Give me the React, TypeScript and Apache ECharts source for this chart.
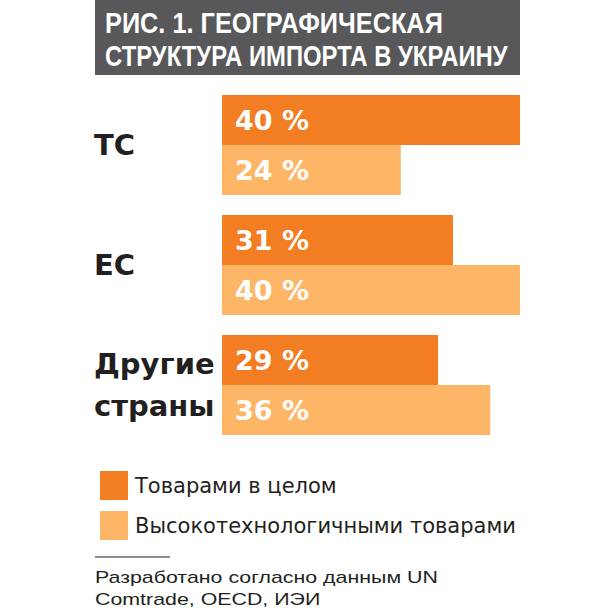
import React, { useEffect, useRef } from "react";
import * as echarts from "echarts";

const categories = ["ТС", "ЕС", "Другие\nстраны"];
const seriesNames = ["Товарами в целом", "Высокотехнологичными товарами"];
const goodsTotal = [40, 31, 29];
const highTech = [24, 40, 36];
const titleLines = ["РИС. 1. ГЕОГРАФИЧЕСКАЯ", "СТРУКТУРА ИМПОРТА В УКРАИНУ"];
const sourceLines = ["Разработано согласно данным UN", "Comtrade, OECD, ИЭИ"];

const ORANGE = "#F37D22";
const LIGHT = "#FDB665";
const DARK = "#231F20";
const SANS = "'Liberation Sans', Arial, sans-serif";
const WIDE = "'DejaVu Sans', sans-serif";

function measure(text: string, font: string): number {
  const c = document.createElement("canvas").getContext("2d");
  if (!c) return 1;
  c.font = font;
  return c.measureText(text).width || 1;
}

export default function App() {
  const ref = useRef<HTMLDivElement>(null);
  useEffect(() => {
    if (!ref.current) return;
    const chart = echarts.init(ref.current, null, { renderer: "svg" });
    const titleFont = `bold 29px ${SANS}`;
    const titleScale1 = 338 / measure(titleLines[0], titleFont);
    const titleScale2 = 403 / measure(titleLines[1], titleFont);
    const noteFont = `17px ${SANS}`;
    const noteScale = 343 / measure(sourceLines[0], noteFont);
    const barLabel = {
      show: true,
      position: "insideLeft",
      distance: 13,
      formatter: "{c} %",
      color: "#ffffff",
      fontFamily: WIDE,
      fontWeight: "bold",
      fontSize: 27,
    };
    chart.setOption({
      animation: false,
      backgroundColor: "#ffffff",
      grid: { left: 222, top: 85, width: 298, height: 360 },
      xAxis: { type: "value", min: 0, max: 40, show: false },
      yAxis: {
        type: "category",
        data: categories,
        inverse: true,
        axisLine: { show: false },
        axisTick: { show: false },
        splitLine: { show: false },
        axisLabel: {
          align: "left",
          margin: 128,
          color: DARK,
          fontFamily: WIDE,
          fontWeight: "bold",
          fontSize: 29,
          lineHeight: 42,
        },
      },
      legend: {
        orient: "vertical",
        left: 95,
        top: 466,
        itemWidth: 28,
        itemHeight: 29,
        itemGap: 11,
        icon: "rect",
        textStyle: { color: DARK, fontFamily: WIDE, fontSize: 21, padding: [0, 0, 0, 2] },
        data: seriesNames,
      },
      series: [
        {
          name: seriesNames[0],
          type: "bar",
          data: goodsTotal,
          barWidth: 50,
          barGap: "0%",
          itemStyle: { color: ORANGE },
          label: barLabel,
        },
        {
          name: seriesNames[1],
          type: "bar",
          data: highTech,
          barWidth: 50,
          barGap: "0%",
          itemStyle: { color: LIGHT },
          label: barLabel,
        },
      ],
      graphic: [
        {
          type: "rect",
          shape: { x: 95, y: 0, width: 425, height: 75 },
          style: { fill: "#58585A" },
        },
        {
          type: "text",
          x: 105,
          y: 22.5,
          scaleX: titleScale1,
          style: {
            text: titleLines[0],
            fill: "#ffffff",
            font: titleFont,
            verticalAlign: "middle",
          },
        },
        {
          type: "text",
          x: 105,
          y: 56,
          scaleX: titleScale2,
          style: {
            text: titleLines[1],
            fill: "#ffffff",
            font: titleFont,
            verticalAlign: "middle",
          },
        },
        {
          type: "line",
          shape: { x1: 95, y1: 557, x2: 170, y2: 557 },
          style: { stroke: DARK, lineWidth: 1.2 },
        },
        {
          type: "text",
          x: 95,
          y: 577,
          scaleX: noteScale,
          style: {
            text: sourceLines[0],
            fill: DARK,
            font: noteFont,
            verticalAlign: "middle",
          },
        },
        {
          type: "text",
          x: 95,
          y: 599,
          scaleX: noteScale,
          style: {
            text: sourceLines[1],
            fill: DARK,
            font: noteFont,
            verticalAlign: "middle",
          },
        },
      ],
    });
    return () => chart.dispose();
  }, []);
  return (
    <div
      ref={ref}
      style={{ position: "fixed", left: 0, top: 0, width: 614, height: 614 }}
    />
  );
}
